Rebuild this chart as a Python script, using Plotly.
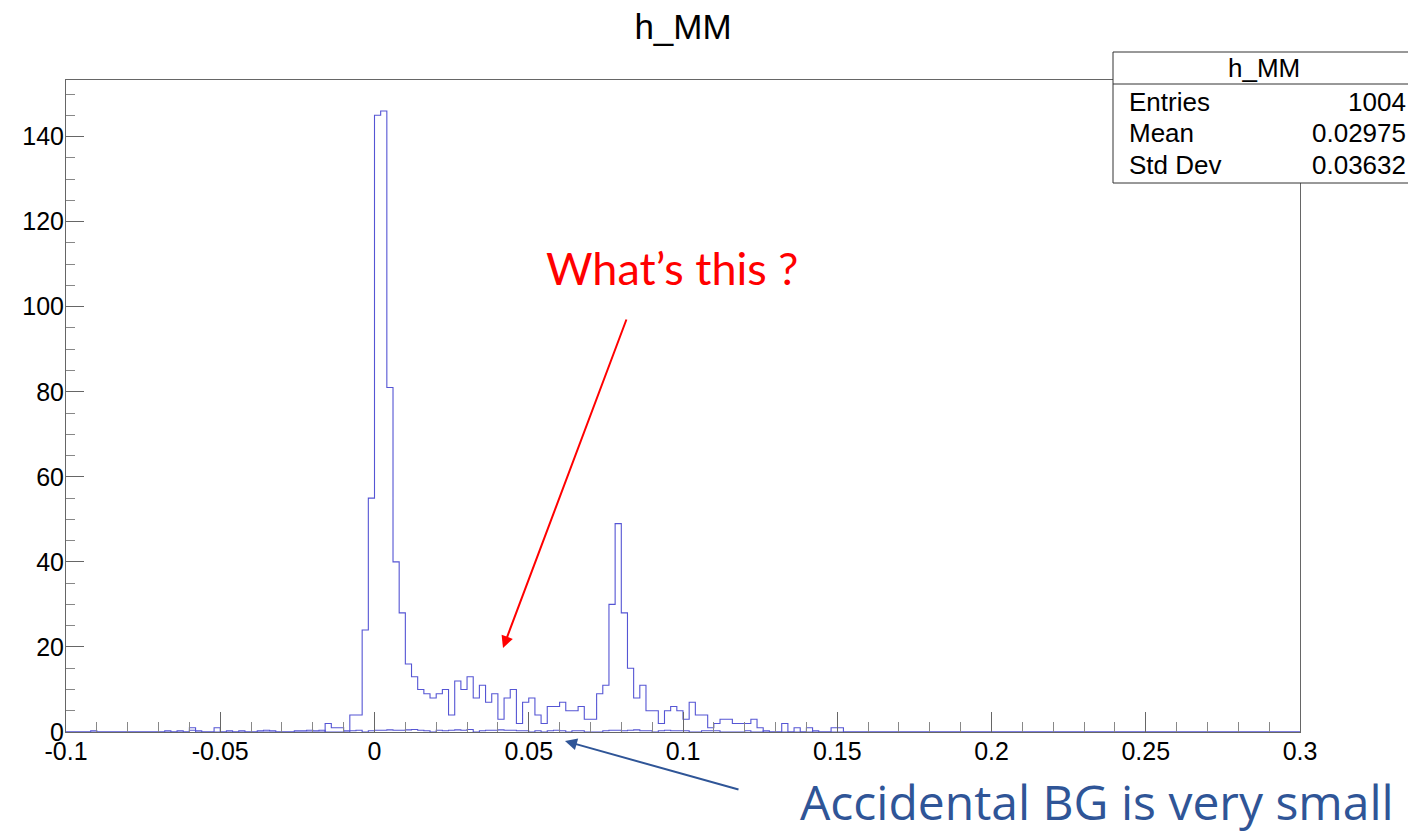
import plotly.graph_objects as go

# ---------------- data ----------------
x_min, x_max, n_bins = -0.1, 0.3, 200

# main histogram h_MM (200 bins of 0.002 from -0.1 to 0.3), rows of 10 bins
counts = [
    0, 0, 0, 0, 0, 0, 0, 0, 0, 0,
    0, 0, 0, 0, 0, 0, 0, 0, 0, 0,
    1, 0, 0, 0, 1, 0, 0, 0, 0, 0,
    0, 0, 0, 0, 0, 0, 0, 0, 0, 0,
    0, 0, 2, 1, 1, 0, 4, 4, 24, 55,
    145, 146, 81, 40, 28, 16, 13, 10, 9, 8,
    9, 10, 4, 12, 10, 13, 8, 11, 7, 9,
    3, 8, 10, 2, 7, 8, 4, 2, 6, 6,
    7, 5, 5, 6, 3, 3, 9, 11, 30, 49,
    28, 15, 8, 11, 5, 5, 2, 5, 6, 5,
    3, 7, 4, 4, 1, 2, 3, 3, 2, 2,
    2, 3, 1, 0, 0, 0, 2, 0, 1, 0,
    1, 0, 0, 0, 1, 1, 0, 0, 0, 0,
    0, 0, 0, 0, 0, 0, 0, 0, 0, 0,
    0, 0, 0, 0, 0, 0, 0, 0, 0, 0,
    0, 0, 0, 0, 0, 0, 0, 0, 0, 0,
    0, 0, 0, 0, 0, 0, 0, 0, 0, 0,
    0, 0, 0, 0, 0, 0, 0, 0, 0, 0,
    0, 0, 0, 0, 0, 0, 0, 0, 0, 0,
    0, 0, 0, 0, 0, 0, 0, 0, 0, 0,
]

# accidental background histogram (very small, drawn on the same axes)
bg_counts = [
    0, 0, 0, 0, 0.3, 0, 0, 0, 0, 0,
    0, 0, 0, 0, 0, 0, 0.3, 0, 0.3, 0,
    0.4, 0.3, 0, 0, 0, 0, 0.3, 0, 0.3, 0,
    0, 0.3, 0.4, 0.3, 0, 0, 0, 0.3, 0.3, 0.4,
    0.3, 0.4, 0, 0, 0, 0.3, 0.3, 0.4, 0, 0.3,
    0.4, 0.4, 0.5, 0.4, 0.4, 0.5, 0.6, 0.4, 0.3, 0,
    0.4, 0.3, 0.4, 0.5, 0.4, 0.6, 0, 0.3, 0.4, 0.4,
    0.5, 0.4, 0.4, 0.3, 0.3, 0, 0.3, 0, 0.3, 0.4,
    0.3, 0, 0.3, 0.3, 0, 0, 0, 0.3, 0.4, 0.4,
    0.3, 0.4, 0.5, 0.3, 0.3, 0, 0.3, 0.4, 0.3, 0.3,
    0.3, 0, 0, 0.3, 0.3, 0.3, 0, 0, 0, 0,
    0.3, 0, 0, 0.3, 0, 0, 0, 0, 0, 0,
    0, 0.3, 0, 0, 0, 0, 0, 0, 0, 0,
    0, 0, 0, 0, 0, 0, 0, 0, 0, 0,
    0, 0, 0, 0, 0, 0, 0, 0, 0, 0,
    0, 0, 0, 0, 0, 0, 0, 0, 0, 0,
    0, 0, 0, 0, 0, 0, 0, 0, 0, 0,
    0, 0, 0, 0, 0, 0, 0, 0, 0, 0,
    0, 0, 0, 0, 0, 0, 0, 0, 0, 0,
    0, 0, 0, 0, 0, 0, 0, 0, 0, 0,
]

x_tick_vals = [-0.1, -0.05, 0, 0.05, 0.1, 0.15, 0.2, 0.25, 0.3]
x_tick_labels = ["-0.1", "-0.05", "0", "0.05", "0.1", "0.15", "0.2", "0.25", "0.3"]
y_tick_vals = [0, 20, 40, 60, 80, 100, 120, 140]
y_tick_labels = ["0", "20", "40", "60", "80", "100", "120", "140"]

stats_title = "h_MM"
stats_names = ["Entries", "Mean", "Std Dev"]
stats_values = ["1004", "0.02975", "0.03632"]

# ---------------- figure ----------------
OFF = 8  # page body margin
W, H = 1416 - OFF, 835 - OFF
PL, PR, PT, PB = 66, 1300, 80, 732  # plot frame in page pixels
ML, MT = PL - OFF, PT - OFF
MR, MB = W - (PR - OFF), H - (PB - OFF)
PW, PH = PR - PL, PB - PT


def px(xp):
    return (xp - PL) / PW


def py(yp):
    return (PB - yp) / PH


bw = (x_max - x_min) / n_bins
edges = [x_min + bw * i for i in range(n_bins + 1)]

hist_color = "#5555d4"

fig = go.Figure()
fig.add_trace(go.Scatter(
    x=edges, y=list(bg_counts) + [bg_counts[-1]], mode="lines",
    line=dict(color=hist_color, width=1.1, shape="hv"),
    hoverinfo="skip", showlegend=False, cliponaxis=False))
fig.add_trace(go.Scatter(
    x=edges, y=list(counts) + [counts[-1]], mode="lines",
    line=dict(color=hist_color, width=1.1, shape="hv"),
    showlegend=False, cliponaxis=False))

y_top = max(counts) * 1.05

axis_font = dict(family="Liberation Sans, Arial, sans-serif", size=25, color="black")

fig.update_layout(
    width=W, height=H,
    margin=dict(l=ML, r=MR, t=MT, b=MB, autoexpand=False),
    paper_bgcolor="white", plot_bgcolor="white",
    title=dict(text="h_MM", x=0.5, xref="paper", xanchor="center",
               y=1 - (27 - OFF) / H, yref="container", yanchor="middle",
               font=dict(family="Liberation Sans, Arial, sans-serif", size=35, color="black")),
    xaxis=dict(range=[x_min, x_max], tickvals=x_tick_vals, ticktext=x_tick_labels,
               ticks="inside", ticklen=20, tickwidth=1, tickcolor="#666",
               minor=dict(dtick=0.01, ticks="inside", ticklen=10, tickwidth=1, tickcolor="#888",
                          tick0=0),
               showgrid=False, zeroline=False, showline=True, linecolor="#666", linewidth=1,
               mirror=True, tickfont=axis_font, ticklabelstandoff=-3),
    yaxis=dict(range=[0, y_top], tickvals=y_tick_vals, ticktext=y_tick_labels,
               ticks="inside", ticklen=18, tickwidth=1, tickcolor="#666",
               minor=dict(dtick=5, ticks="inside", ticklen=9, tickwidth=1, tickcolor="#888",
                          tick0=0),
               showgrid=False, zeroline=False, showline=True, linecolor="#666", linewidth=1,
               mirror=True, tickfont=axis_font, ticklabelstandoff=-4),
)

# ---- stats box ----
bx0, bx1, by0, by1, bsep = 1113, 1415, 52, 183, 84
fig.add_shape(type="rect", xref="paper", yref="paper",
              x0=px(bx0), x1=px(bx1), y0=py(by1), y1=py(by0),
              line=dict(color="#333", width=1), fillcolor="white", layer="above")
fig.add_shape(type="line", xref="paper", yref="paper",
              x0=px(bx0), x1=px(bx1), y0=py(bsep), y1=py(bsep),
              line=dict(color="#333", width=1), layer="above")
stat_font = dict(family="Liberation Sans, Arial, sans-serif", size=26, color="black")
fig.add_annotation(text=stats_title, xref="paper", yref="paper", x=px((bx0 + bx1) / 2),
                   y=py(68), xanchor="center", yanchor="middle", showarrow=False, font=stat_font)
row_y = [102, 133, 165]
for name, val, ry in zip(stats_names, stats_values, row_y):
    fig.add_annotation(text=name, xref="paper", yref="paper", x=px(1127), y=py(ry),
                       xanchor="left", yanchor="middle", showarrow=False, font=stat_font)
    fig.add_annotation(text=val, xref="paper", yref="paper", x=px(1408), y=py(ry),
                       xanchor="right", yanchor="middle", showarrow=False, font=stat_font)

# ---- slide annotations ----
fig.add_annotation(text="What’s this ?", xref="paper", yref="paper",
                   x=px(672), y=py(268), xanchor="center", yanchor="middle",
                   showarrow=False, font=dict(family="Lato, Noto Sans, sans-serif", size=45, color="#FF0000"))
fig.add_annotation(text="", xref="paper", yref="paper", x=px(503), y=py(648),
                   ax=627 - 503, ay=318 - 648, showarrow=True, arrowhead=2, arrowsize=1.2,
                   arrowwidth=2, arrowcolor="#FF0000", standoff=0)
fig.add_annotation(text="Accidental BG is very small", xref="paper", yref="paper",
                   x=px(1097), y=py(801), xanchor="center", yanchor="middle",
                   showarrow=False, font=dict(family="Open Sans, Noto Sans, sans-serif", size=48, color="#2F5597"))
fig.add_annotation(text="", xref="paper", yref="paper", x=px(565), y=py(741),
                   ax=740 - 565, ay=790 - 741, showarrow=True, arrowhead=2, arrowsize=1.2,
                   arrowwidth=2, arrowcolor="#2F5597", standoff=0)

fig.write_html("out.html")
